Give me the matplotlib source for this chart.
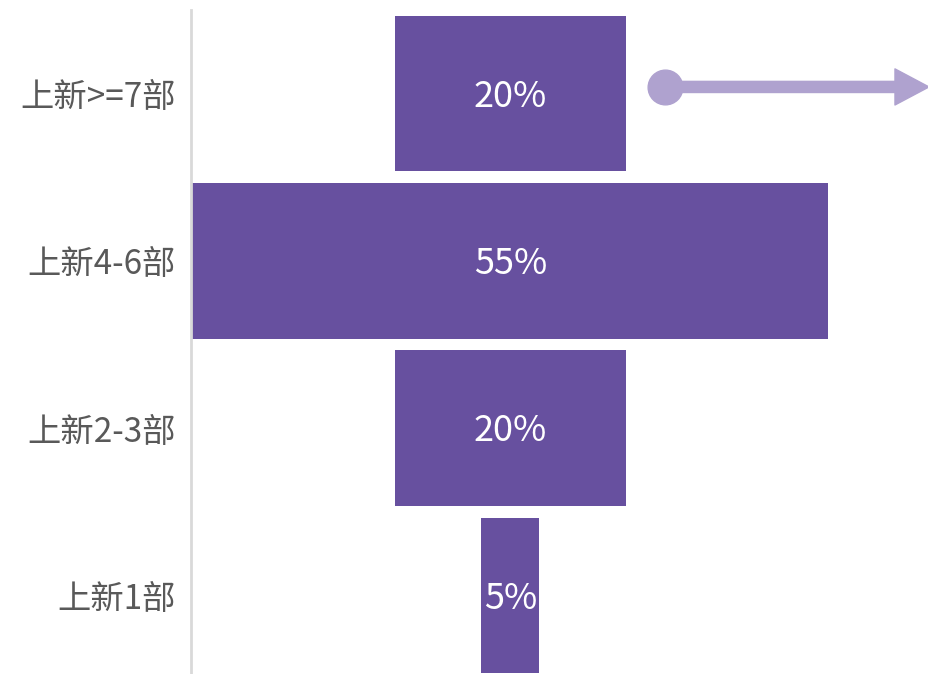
import matplotlib.pyplot as plt
from matplotlib.patches import FancyArrowPatch

plt.rcParams['font.family'] = ['Noto Sans CJK SC', 'DejaVu Sans']

categories = ['上新1部', '上新2-3部', '上新4-6部', '上新>=7部']
values = [5, 20, 55, 20]
labels = ['5%', '20%', '55%', '20%']

bar_color = '#67509f'
arrow_color = '#afa2cf'

fig = plt.figure(figsize=(9.29, 6.74), dpi=100)
ax = fig.add_axes([191 / 929, 0, 1 - 191 / 929, 664 / 674])

y = list(range(len(categories)))
lefts = [-v / 2 for v in values]
ax.barh(y, values, left=lefts, height=0.93, color=bar_color)
for yi, txt in zip(y, labels):
    ax.text(0, yi - 0.02, txt, color='white', fontsize=26, ha='center', va='center')

ax.set_xlim(-27.6, 36.2)
ax.set_ylim(-0.47, 3.5)
ax.set_yticks(y)
ax.set_yticklabels(categories, fontsize=24, color='#595959')
ax.tick_params(axis='y', length=0, pad=11)
ax.set_xticks([])
for s in ['top', 'right', 'bottom']:
    ax.spines[s].set_visible(False)
ax.spines['left'].set_color('#d9d9d9')
ax.spines['left'].set_linewidth(2)

# arrow next to the top bar
ay = 3.04
ax.plot([13.4], [ay], 'o', color=arrow_color, markersize=25, clip_on=False)
arrow = FancyArrowPatch((13.4, ay), (36.2, ay), arrowstyle='simple,head_length=2.45,head_width=2.6,tail_width=0.8',
                        mutation_scale=10, color=arrow_color, clip_on=False, shrinkA=0, shrinkB=0)
ax.add_patch(arrow)

fig.savefig('out.png', dpi=100)
